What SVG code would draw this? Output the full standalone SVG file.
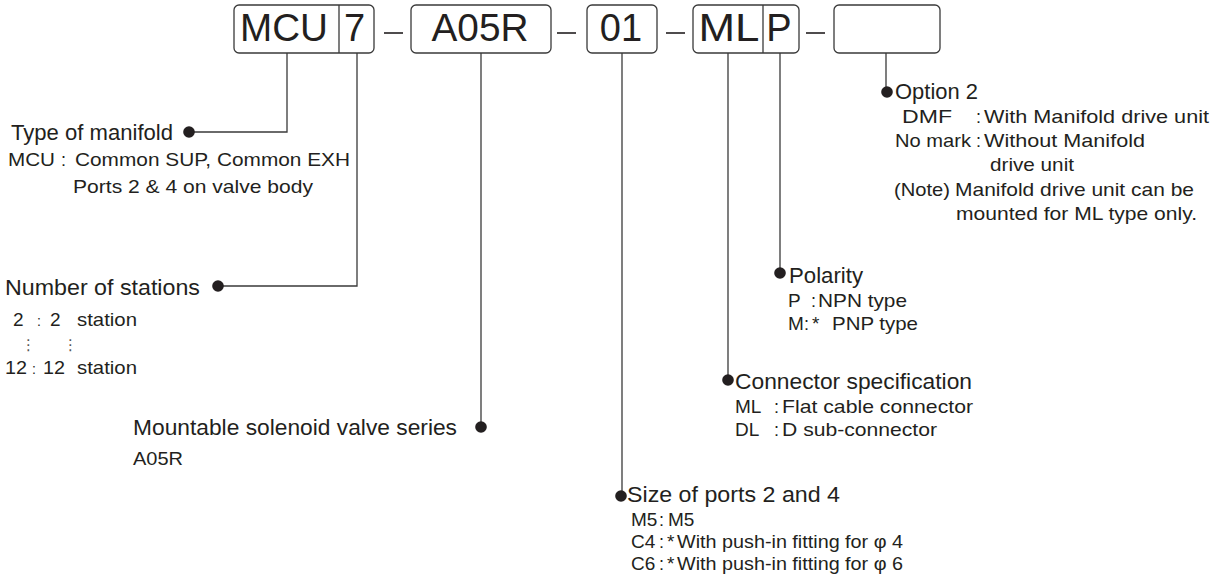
<svg xmlns="http://www.w3.org/2000/svg" width="1220" height="586" viewBox="0 0 1220 586">
<style>
text{font-family:"Liberation Sans",Arial,sans-serif;fill:#231f20}
.big{font-size:38px;text-anchor:middle}
.t{font-size:22.5px}
.s{font-size:19px}
.c{font-size:18px}
.box{fill:#fff;stroke:#3a3a3a;stroke-width:1.3}
.ln{fill:none;stroke:#3a3a3a;stroke-width:1.3}
.dash{stroke:#231f20;stroke-width:1.6}
.dot{fill:#231f20}
.el{font-family:"DejaVu Sans",sans-serif;font-size:15px;fill:#555}
</style>
<rect width="1220" height="586" fill="#fff"/>
<g id="code">
  <g id="box-mcu">
    <rect class="box" x="234" y="5" width="140" height="48" rx="5"/>
    <line class="ln" x1="339" y1="5" x2="339" y2="53"/>
    <text class="big" x="284" y="41" textLength="88" lengthAdjust="spacingAndGlyphs">MCU</text>
    <text class="big" x="354.5" y="41">7</text>
  </g>
  <line class="dash" x1="384" y1="33" x2="403" y2="33"/>
  <g id="box-valve">
    <rect class="box" x="411" y="5" width="140" height="48" rx="5"/>
    <text class="big" x="480" y="41" textLength="97" lengthAdjust="spacingAndGlyphs">A05R</text>
  </g>
  <line class="dash" x1="557" y1="33" x2="576" y2="33"/>
  <g id="box-port">
    <rect class="box" x="587" y="5" width="70" height="48" rx="5"/>
    <text class="big" x="621" y="41">01</text>
  </g>
  <line class="dash" x1="666" y1="33" x2="685" y2="33"/>
  <g id="box-conn">
    <rect class="box" x="693" y="5" width="106" height="48" rx="5"/>
    <line class="ln" x1="763" y1="5" x2="763" y2="53"/>
    <text class="big" x="729" y="41" textLength="61" lengthAdjust="spacingAndGlyphs">ML</text>
    <text class="big" x="779" y="41">P</text>
  </g>
  <line class="dash" x1="806" y1="33" x2="825" y2="33"/>
  <g id="box-option">
    <rect class="box" x="834" y="5" width="106" height="48" rx="5"/>
  </g>
</g>
<g id="connectors">
  <path class="ln" d="M287 53V132H189"/>
  <path class="ln" d="M357 53V286H218"/>
  <path class="ln" d="M481 53V427"/>
  <path class="ln" d="M622 53V496"/>
  <path class="ln" d="M728 53V380"/>
  <path class="ln" d="M780 53V273"/>
  <path class="ln" d="M886 53V92"/>
  <circle class="dot" cx="189" cy="132" r="5.8"/>
  <circle class="dot" cx="218" cy="286" r="5.8"/>
  <circle class="dot" cx="481" cy="427" r="5.8"/>
  <circle class="dot" cx="621" cy="496" r="5.8"/>
  <circle class="dot" cx="728" cy="380" r="5.8"/>
  <circle class="dot" cx="780" cy="273" r="5.8"/>
  <circle class="dot" cx="887" cy="92" r="5.8"/>
</g>
<g id="type-of-manifold">
  <text class="t" x="11" y="140" textLength="162" lengthAdjust="spacingAndGlyphs">Type of manifold</text>
  <text class="s" x="8" y="166" textLength="47" lengthAdjust="spacingAndGlyphs">MCU</text>
  <text class="c" x="61" y="166">:</text>
  <text class="s" x="75" y="166" textLength="275" lengthAdjust="spacingAndGlyphs">Common SUP, Common EXH</text>
  <text class="s" x="73" y="193" textLength="240" lengthAdjust="spacingAndGlyphs">Ports 2 &amp; 4 on valve body</text>
</g>
<g id="number-of-stations">
  <text class="t" x="5" y="295" textLength="195" lengthAdjust="spacingAndGlyphs">Number of stations</text>
  <text class="s" x="13" y="326">2</text>
  <text class="c" x="37" y="326" style="font-size:14px">:</text>
  <text class="s" x="50" y="326">2</text>
  <text class="s" x="77" y="326" textLength="60" lengthAdjust="spacingAndGlyphs">station</text>
  <text class="el" x="21" y="350">⋮</text>
  <text class="el" x="63" y="350">⋮</text>
  <text class="s" x="5" y="374" textLength="22" lengthAdjust="spacingAndGlyphs">12</text>
  <text class="c" x="32" y="374" style="font-size:14px">:</text>
  <text class="s" x="43" y="374" textLength="22" lengthAdjust="spacingAndGlyphs">12</text>
  <text class="s" x="77" y="374" textLength="60" lengthAdjust="spacingAndGlyphs">station</text>
</g>
<g id="valve-series">
  <text class="t" x="133" y="435" textLength="324" lengthAdjust="spacingAndGlyphs">Mountable solenoid valve series</text>
  <text class="s" x="133" y="465" textLength="50" lengthAdjust="spacingAndGlyphs">A05R</text>
</g>
<g id="port-size">
  <text class="t" x="627" y="502" textLength="213" lengthAdjust="spacingAndGlyphs">Size of ports 2 and 4</text>
  <text class="s" x="631" y="526">M5</text>
  <text class="c" x="659" y="526">:</text>
  <text class="s" x="668" y="526">M5</text>
  <text class="s" x="631" y="548">C4</text>
  <text class="c" x="659" y="548">:</text>
  <text class="s" x="667" y="548">*</text>
  <text class="s" x="677" y="548" textLength="226" lengthAdjust="spacingAndGlyphs">With push-in fitting for φ 4</text>
  <text class="s" x="631" y="570">C6</text>
  <text class="c" x="659" y="570">:</text>
  <text class="s" x="667" y="570">*</text>
  <text class="s" x="677" y="570" textLength="226" lengthAdjust="spacingAndGlyphs">With push-in fitting for φ 6</text>
</g>
<g id="connector-spec">
  <text class="t" x="735" y="389" textLength="237" lengthAdjust="spacingAndGlyphs">Connector specification</text>
  <text class="s" x="735" y="413">ML</text>
  <text class="c" x="774" y="413">:</text>
  <text class="s" x="782" y="413" textLength="191" lengthAdjust="spacingAndGlyphs">Flat cable connector</text>
  <text class="s" x="735" y="436">DL</text>
  <text class="c" x="774" y="436">:</text>
  <text class="s" x="782" y="436" textLength="155" lengthAdjust="spacingAndGlyphs">D sub-connector</text>
</g>
<g id="polarity">
  <text class="t" x="789" y="283" textLength="74" lengthAdjust="spacingAndGlyphs">Polarity</text>
  <text class="s" x="788" y="307">P</text>
  <text class="c" x="811" y="307">:</text>
  <text class="s" x="818" y="307" textLength="89" lengthAdjust="spacingAndGlyphs">NPN type</text>
  <text class="s" x="788" y="330">M</text>
  <text class="c" x="804" y="330">:</text>
  <text class="s" x="812" y="330">*</text>
  <text class="s" x="832" y="330" textLength="86" lengthAdjust="spacingAndGlyphs">PNP type</text>
</g>
<g id="option-2">
  <text class="t" x="895" y="99" textLength="83" lengthAdjust="spacingAndGlyphs">Option 2</text>
  <text class="s" x="902" y="123" textLength="50" lengthAdjust="spacingAndGlyphs">DMF</text>
  <text class="c" x="976" y="123">:</text>
  <text class="s" x="984" y="123" textLength="225" lengthAdjust="spacingAndGlyphs">With Manifold drive unit</text>
  <text class="s" x="895" y="147" textLength="76" lengthAdjust="spacingAndGlyphs">No mark</text>
  <text class="c" x="976" y="147">:</text>
  <text class="s" x="984" y="147" textLength="161" lengthAdjust="spacingAndGlyphs">Without Manifold</text>
  <text class="s" x="990" y="171" textLength="84" lengthAdjust="spacingAndGlyphs">drive unit</text>
  <text class="s" x="894" y="196" textLength="56" lengthAdjust="spacingAndGlyphs">(Note)</text>
  <text class="s" x="955" y="196" textLength="239" lengthAdjust="spacingAndGlyphs">Manifold drive unit can be</text>
  <text class="s" x="956" y="220" textLength="241" lengthAdjust="spacingAndGlyphs">mounted for ML type only.</text>
</g>
</svg>
